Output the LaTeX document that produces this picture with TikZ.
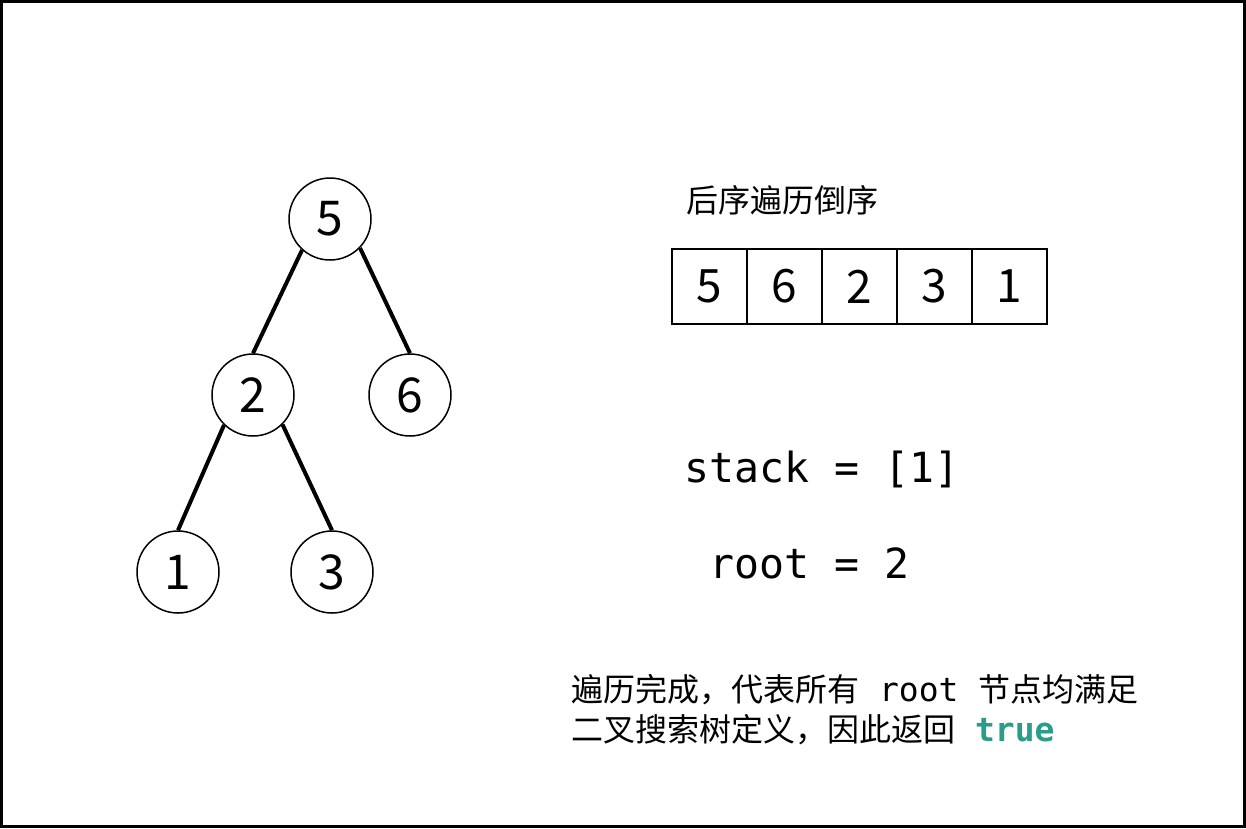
\documentclass[tikz,border=0pt]{standalone}
\usepackage{fontspec}
\newfontfamily\cjk{Noto Sans CJK SC}
\newfontfamily\mono{DejaVu Sans Mono}
\definecolor{teal1}{RGB}{42,157,138}
\begin{document}
\begin{tikzpicture}[x=1pt,y=-1pt,
  treenode/.style={circle,draw,line width=1.5pt,minimum size=82pt,inner sep=0pt,font=\cjk\fontsize{48}{48}\selectfont},
  cell/.style={rectangle,draw,line width=1.5pt,minimum size=75pt,inner sep=0pt,font=\cjk\fontsize{46}{46}\selectfont},
  edge/.style={line width=4pt},
  label/.style={inner sep=0pt}]
\useasboundingbox (0,0) rectangle (1246,828);
\draw[line width=3pt] (1.5,1.5) rectangle (1244.5,826.5);

\node[treenode] (n5) at (330,219) {5};
\node[treenode] (n2) at (253,395) {2};
\node[treenode] (n6) at (410,395) {6};
\node[treenode] (n1) at (178,572) {1};
\node[treenode] (n3) at (332,572) {3};

\draw[edge] (n5.228) -- (n2.north);
\draw[edge] (n5.316) -- (n6.north);
\draw[edge] (n2.226) -- (n1.north);
\draw[edge] (n2.315) -- (n3.north);

\node[label,anchor=west,font=\cjk\fontsize{32}{32}\selectfont] (title) at (686,200) {后序遍历倒序};

\node[cell] (a1) at (709.5,286.5) {5};
\node[cell] (a2) at (784.5,286.5) {6};
\node[cell] (a3) at (859.5,286.5) {2};
\node[cell] (a4) at (934.5,286.5) {3};
\node[cell] (a5) at (1009.5,286.5) {1};

\node[label,anchor=base west,font=\mono\fontsize{41.5}{41.5}\selectfont] (stack) at (684,482) {stack = [1]};
\node[label,anchor=base west,font=\mono\fontsize{41.5}{41.5}\selectfont] (root) at (684,578) {\ root = 2};

\node[label,anchor=west,font=\cjk\fontsize{32}{32}\selectfont] (l1) at (571,690) {遍历完成，代表所有{\mono\fontsize{33}{33}\selectfont\ root\ }节点均满足};
\node[label,anchor=west,font=\cjk\fontsize{32}{32}\selectfont] (l2) at (571,730) {二叉搜索树定义，因此返回{\mono\fontsize{33}{33}\selectfont\ \textcolor{teal1}{\bfseries true}}};
\end{tikzpicture}
\end{document}
